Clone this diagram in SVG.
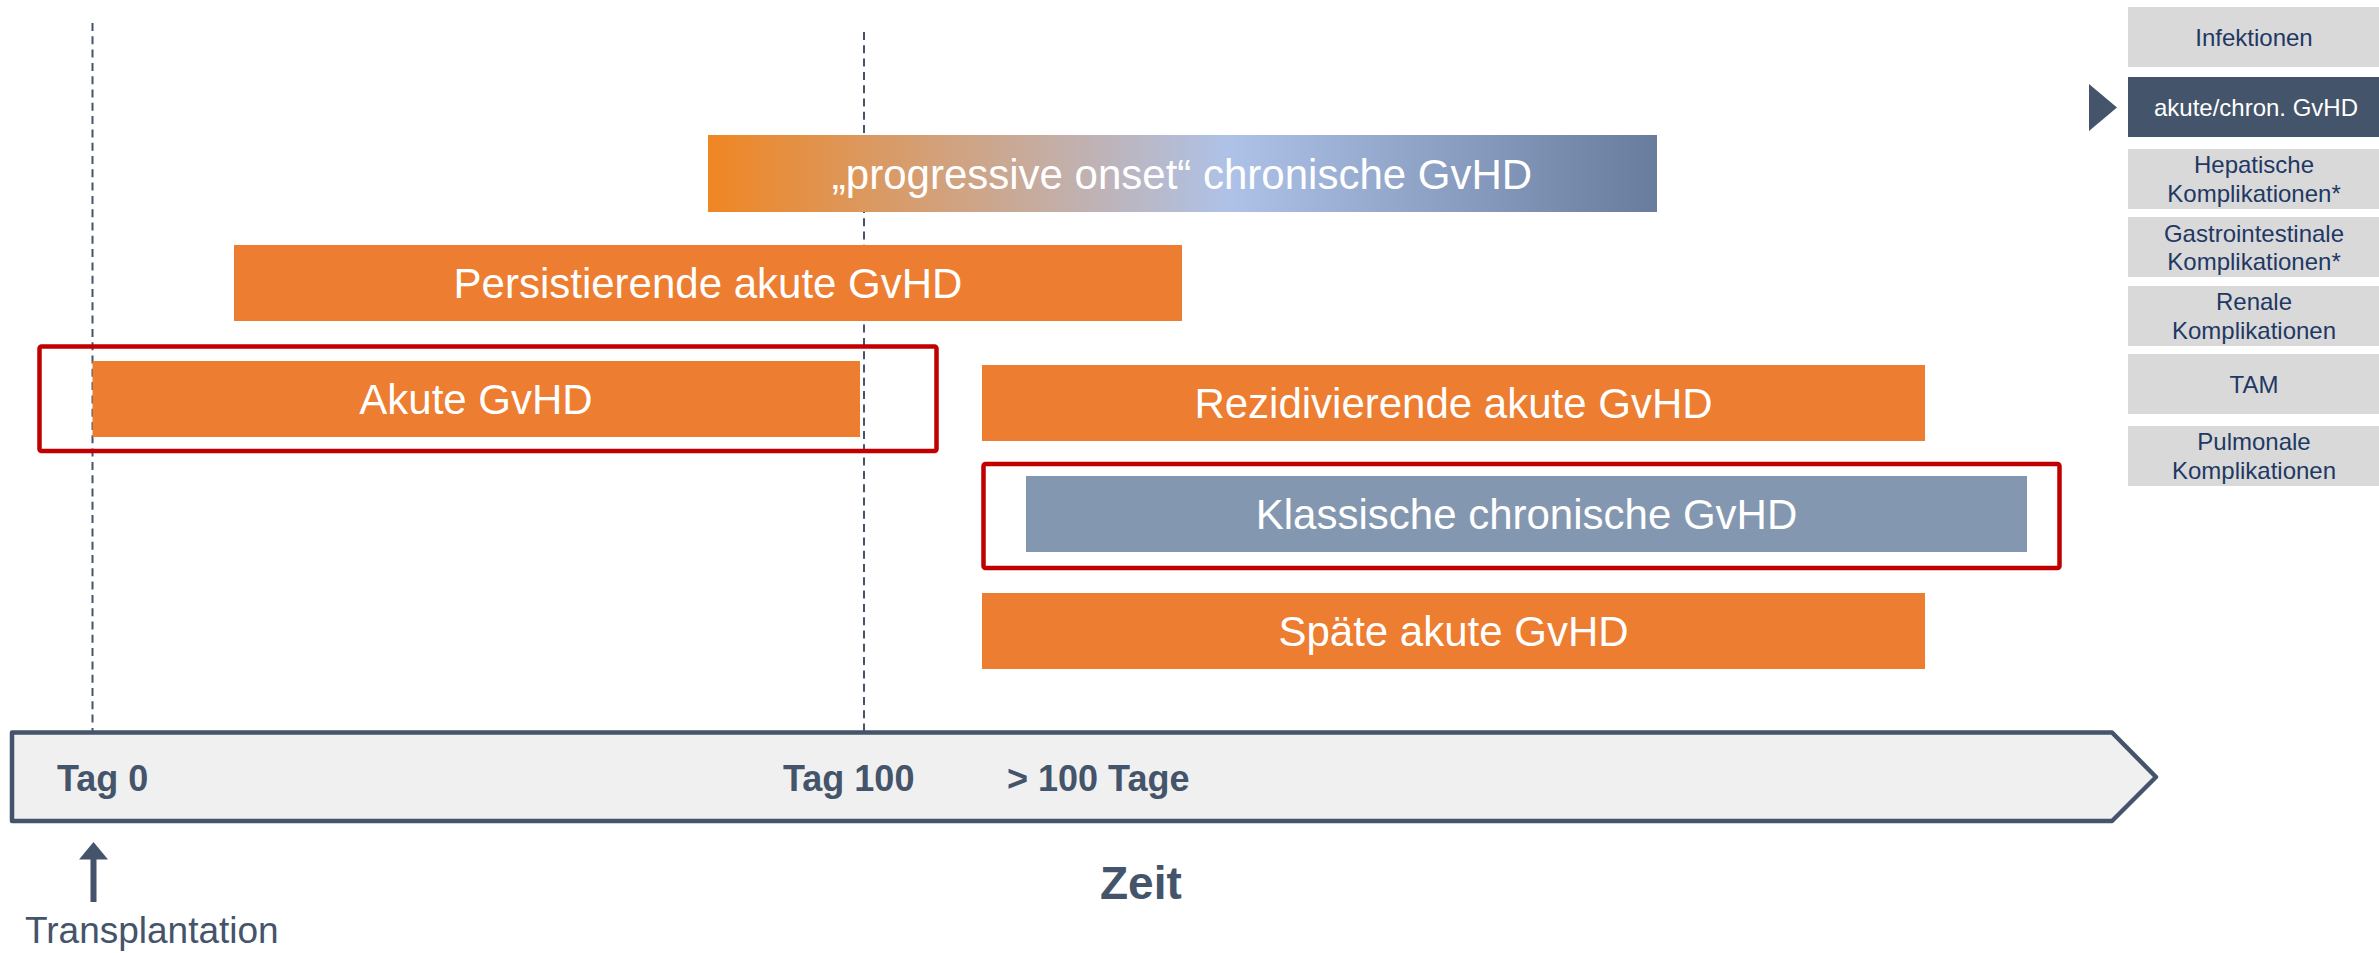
<svg xmlns="http://www.w3.org/2000/svg" width="2379" height="953" viewBox="0 0 2379 953">
<style>
.bar{fill:#ED7D31}
.bt{font-family:"Liberation Sans",Arial,sans-serif;font-size:42px;fill:#FFFFFF;text-anchor:middle}
.red{fill:none;stroke:#C00000;stroke-width:4.5}
.dash{stroke:#44546A;stroke-width:2;stroke-dasharray:8 5.3}
.tl{font-family:"Liberation Sans",Arial,sans-serif;font-weight:bold;font-size:36px;fill:#44546A}
.pb{fill:#D9D9D9}
.pt{font-family:"Liberation Sans",Arial,sans-serif;font-size:24px;fill:#1F3864;text-anchor:middle}
</style>
<defs>
<linearGradient id="prog" x1="0" y1="0" x2="1" y2="0">
<stop offset="0" stop-color="#EF8623"/>
<stop offset="0.55" stop-color="#AEC2E8"/>
<stop offset="1" stop-color="#687D9D"/>
</linearGradient>
</defs>
<rect width="2379" height="953" fill="#FFFFFF"/>
<g id="connectors">
<line class="dash" x1="92.5" y1="23" x2="92.5" y2="731"/>
<line class="dash" x1="864" y1="32" x2="864" y2="731"/>
</g>
<g id="progressive">
<rect x="708" y="135" width="949" height="77" fill="url(#prog)"/>
<text class="bt" x="1182" y="189">„progressive onset“ chronische GvHD</text>
</g>
<g id="persistierende">
<rect class="bar" x="234" y="245" width="948" height="76"/>
<text class="bt" x="708" y="298">Persistierende akute GvHD</text>
</g>
<g id="akute">
<rect class="bar" x="92.5" y="361" width="767.5" height="76"/>
<text class="bt" x="476" y="414">Akute GvHD</text>
<rect class="red" x="39.5" y="346.5" width="897" height="104.5" rx="2"/>
</g>
<g id="rezidivierende">
<rect class="bar" x="982" y="365" width="943" height="76"/>
<text class="bt" x="1453.5" y="418">Rezidivierende akute GvHD</text>
</g>
<g id="klassische">
<rect x="1026" y="476" width="1001" height="76" fill="#8497B0"/>
<text class="bt" x="1526.5" y="529">Klassische chronische GvHD</text>
<rect class="red" x="983.5" y="464" width="1076" height="104" rx="2"/>
</g>
<g id="spaete">
<rect class="bar" x="982" y="593" width="943" height="76"/>
<text class="bt" x="1453.5" y="646">Späte akute GvHD</text>
</g>
<g id="timeline">
<polygon points="12,732.5 2112,732.5 2156,777 2112,821 12,821" fill="#F0F0F0" stroke="#44546A" stroke-width="4.5" stroke-linejoin="round"/>
<text class="tl" x="57" y="791">Tag 0</text>
<text class="tl" x="783" y="791">Tag 100</text>
<text class="tl" x="1007" y="791">&gt; 100 Tage</text>
</g>
<g id="zeit">
<text x="1100" y="899" font-family="'Liberation Sans',Arial,sans-serif" font-weight="bold" font-size="46" fill="#44546A">Zeit</text>
</g>
<g id="transplantation">
<rect x="90.5" y="855" width="6" height="47" fill="#44546A"/>
<polygon points="93.5,842 79,859.5 108,859.5" fill="#44546A"/>
<text x="25" y="943" font-family="'Liberation Sans',Arial,sans-serif" font-size="37" fill="#44546A">Transplantation</text>
</g>
<g id="panel">
<g id="p-infektionen"><rect class="pb" x="2128" y="7" width="251" height="60"/><text class="pt" x="2254" y="46">Infektionen</text></g>
<g id="p-gvhd"><polygon points="2089,84 2117,107.5 2089,131" fill="#44546A"/><rect x="2128" y="77" width="251" height="60" fill="#44546A"/><text class="pt" x="2256" y="115.5" style="fill:#FFFFFF">akute/chron. GvHD</text></g>
<g id="p-hepatische"><rect class="pb" x="2128" y="149" width="251" height="60"/><text class="pt" x="2254" y="173">Hepatische</text><text class="pt" x="2254" y="201.5">Komplikationen*</text></g>
<g id="p-gastro"><rect class="pb" x="2128" y="217" width="251" height="60"/><text class="pt" x="2254" y="241.5">Gastrointestinale</text><text class="pt" x="2254" y="270">Komplikationen*</text></g>
<g id="p-renale"><rect class="pb" x="2128" y="286" width="251" height="60"/><text class="pt" x="2254" y="310">Renale</text><text class="pt" x="2254" y="338.5">Komplikationen</text></g>
<g id="p-tam"><rect class="pb" x="2128" y="354" width="251" height="60"/><text class="pt" x="2254" y="392.5">TAM</text></g>
<g id="p-pulmonale"><rect class="pb" x="2128" y="426" width="251" height="60"/><text class="pt" x="2254" y="450">Pulmonale</text><text class="pt" x="2254" y="478.5">Komplikationen</text></g>
</g>
</svg>
